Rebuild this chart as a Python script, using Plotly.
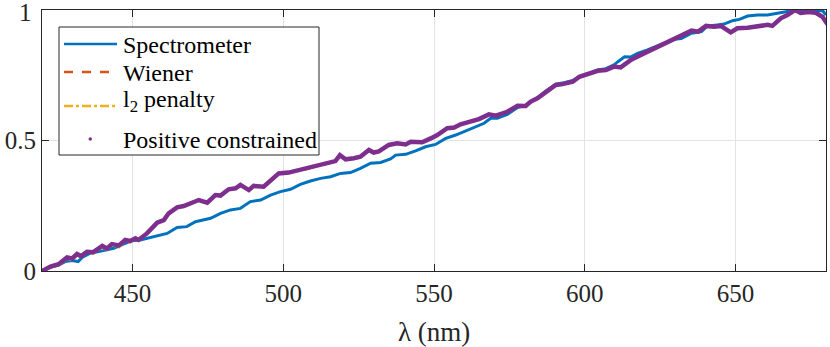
import plotly.graph_objects as go

# wavelength (nm) and normalised spectra
spec_x = [420, 422.8, 425.5, 427.7, 430, 432, 433.3, 436, 440, 443.8, 447, 449.9, 452.6, 457,
          461.5, 464.8, 468, 470.9, 475.9, 479.2, 482.5, 485.8, 489.1, 492.5, 495.8, 499.1,
          502.4, 505.7, 509, 512.4, 515.7, 519, 522.3, 525.6, 529, 532.3, 535.6, 537.3, 540.6,
          543.9, 547.2, 550.5, 553.9, 557.2, 560.5, 563.8, 566.6, 568.8, 571, 574.3, 577.7,
          580.4, 582.1, 584.3, 587.1, 590.4, 592.6, 596, 598.2, 601.5, 604.3, 607, 609.7, 611,
          613.2, 615.2, 617.5, 620.8, 624.1, 627.4, 629.6, 632, 635.4, 638.7, 640.7, 644, 646.2,
          649, 651.3, 654, 657.3, 660.6, 663.9, 667.2, 670, 672.7, 676.1, 678.9, 680]
spec_y = [0, 0.014, 0.023, 0.036, 0.04, 0.036, 0.052, 0.068, 0.077, 0.087, 0.103, 0.116, 0.119,
          0.131, 0.144, 0.167, 0.170, 0.189, 0.202, 0.221, 0.234, 0.24, 0.266, 0.272, 0.291,
          0.304, 0.313, 0.332, 0.345, 0.355, 0.361, 0.374, 0.377, 0.393, 0.413, 0.416, 0.429,
          0.444, 0.447, 0.46, 0.476, 0.485, 0.508, 0.521, 0.536, 0.553, 0.566, 0.585, 0.585,
          0.6, 0.626, 0.635, 0.65, 0.664, 0.69, 0.716, 0.72, 0.73, 0.745, 0.757, 0.77, 0.775,
          0.79, 0.802, 0.821, 0.82, 0.834, 0.847, 0.862, 0.875, 0.888, 0.891, 0.911, 0.917,
          0.939, 0.943, 0.946, 0.959, 0.964, 0.977, 0.981, 0.981, 0.987, 0.994, 1.0, 0.997,
          0.997, 0.997, 0.981]

rec_x = [420, 422.8, 425.5, 428.3, 430, 431.6, 433, 434.9, 437, 440, 441.5, 443.2, 445.5, 447.6,
         449.2, 451, 452, 454.8, 458.2, 460.4, 462, 464.8, 467, 469.2, 472, 474.8, 477.5, 479.2,
         481.9, 484.2, 485.8, 488.6, 490.2, 493.5, 496.3, 498.5, 501.8, 505.2, 508.5, 511.8,
         515.1, 517.3, 518.8, 520.7, 523.4, 525.6, 528.4, 530, 531.7, 535, 537.8, 540.6, 542.3,
         546.1, 548.9, 551.1, 554.4, 556.7, 558.8, 562.2, 564.9, 568.2, 570.5, 574.3, 577.7,
         580.4, 582.1, 584.3, 587.1, 590.4, 592.6, 596, 598.2, 601.5, 604.3, 607, 609.7, 611.9,
         615.2, 618.6, 621.9, 625.2, 628, 630.2, 632, 635.4, 637.6, 640.2, 642.9, 645.1, 648.4,
         650.6, 654, 657.3, 660.6, 662.2, 663.3, 665, 667.2, 669.7, 671.6, 674.3, 676.6, 678.8,
         680.5]
positive_y = [0, 0.017, 0.026, 0.052, 0.048, 0.065, 0.057, 0.074, 0.072, 0.096, 0.086, 0.103,
              0.098, 0.119, 0.115, 0.125, 0.119, 0.144, 0.185, 0.195, 0.221, 0.244, 0.249, 0.259,
              0.272, 0.262, 0.291, 0.289, 0.313, 0.317, 0.33, 0.31, 0.326, 0.323, 0.349, 0.374,
              0.377, 0.387, 0.393, 0.406, 0.413, 0.421, 0.444, 0.428, 0.432, 0.438, 0.464, 0.454,
              0.458, 0.483, 0.489, 0.485, 0.495, 0.493, 0.508, 0.521, 0.547, 0.55, 0.562, 0.572,
              0.582, 0.6, 0.595, 0.61, 0.633, 0.632, 0.649, 0.662, 0.687, 0.713, 0.716, 0.725,
              0.744, 0.755, 0.767, 0.77, 0.783, 0.78, 0.808, 0.828, 0.847, 0.862, 0.879, 0.895,
              0.904, 0.921, 0.917, 0.939, 0.936, 0.939, 0.914, 0.93, 0.932, 0.936, 0.943, 0.939,
              0.951, 0.968, 0.981, 1.0, 0.989, 0.992, 0.989, 0.974, 0.946]
# Wiener and l2 results lie almost exactly under the positive-constrained one
wiener_y = [0, 0.018, 0.027, 0.051, 0.047, 0.064, 0.057, 0.073, 0.071, 0.095, 0.085, 0.102,
            0.097, 0.118, 0.114, 0.124, 0.118, 0.143, 0.184, 0.194, 0.22, 0.243, 0.248, 0.258,
            0.271, 0.261, 0.29, 0.288, 0.312, 0.316, 0.329, 0.309, 0.325, 0.322, 0.348, 0.373,
            0.376, 0.386, 0.392, 0.405, 0.412, 0.42, 0.443, 0.427, 0.431, 0.437, 0.463, 0.453,
            0.457, 0.482, 0.488, 0.484, 0.494, 0.492, 0.507, 0.52, 0.546, 0.549, 0.561, 0.571,
            0.581, 0.599, 0.594, 0.609, 0.632, 0.631, 0.648, 0.661, 0.686, 0.712, 0.715, 0.724,
            0.743, 0.754, 0.766, 0.769, 0.782, 0.779, 0.807, 0.827, 0.846, 0.861, 0.878, 0.894,
            0.903, 0.92, 0.916, 0.938, 0.935, 0.938, 0.913, 0.929, 0.931, 0.935, 0.942, 0.938,
            0.95, 0.967, 0.98, 0.999, 0.988, 0.991, 0.988, 0.973, 0.945]
l2_y = [0, 0.012, 0.02, 0.046, 0.04, 0.06, 0.05, 0.07, 0.066, 0.09, 0.08, 0.098,
        0.09, 0.114, 0.108, 0.121, 0.115, 0.141, 0.182, 0.193, 0.219, 0.242, 0.247, 0.257,
        0.27, 0.26, 0.289, 0.287, 0.311, 0.315, 0.328, 0.308, 0.324, 0.321, 0.347, 0.372,
        0.375, 0.385, 0.391, 0.404, 0.411, 0.419, 0.442, 0.426, 0.43, 0.436, 0.462, 0.452,
        0.456, 0.481, 0.487, 0.483, 0.493, 0.491, 0.506, 0.519, 0.545, 0.548, 0.56, 0.57,
        0.58, 0.598, 0.593, 0.608, 0.631, 0.63, 0.647, 0.66, 0.685, 0.711, 0.714, 0.723,
        0.742, 0.753, 0.765, 0.768, 0.781, 0.778, 0.806, 0.826, 0.845, 0.86, 0.877, 0.893,
        0.902, 0.919, 0.915, 0.937, 0.934, 0.937, 0.912, 0.928, 0.93, 0.934, 0.941, 0.937,
        0.949, 0.966, 0.979, 0.998, 0.987, 0.99, 0.987, 0.972, 0.944]

series_names = ["Spectrometer", "Wiener", "l<sub>2</sub> penalty", "Positive constrained"]
x_ticks = [450, 500, 550, 600, 650]
y_ticks = [0, 0.5, 1]
y_tick_text = ["0", "0.5", ""]   # top label "1" drawn separately, nudged down like MATLAB does

FONT = "Liberation Serif"
AX = "#262626"
COLORS = ["#0072BD", "#D95319", "#EDB120", "#7E2F8E"]
DASHES = ["solid", "dash", "dashdot", "solid"]
WIDTHS = [3, 2, 2, 4.5]

W, H = 830, 347
ML, MR, MT, MB = 42, 4, 10, 76
PW, PH = W - ML - MR, H - MT - MB


def px(x):
    return (x - ML) / PW


def py(y):
    return 1 - (y - MT) / PH


fig = go.Figure()
fig.add_trace(go.Scatter(x=spec_x, y=spec_y, name=series_names[0], mode="lines",
                         line=dict(color=COLORS[0], width=WIDTHS[0])))
fig.add_trace(go.Scatter(x=rec_x, y=wiener_y, name=series_names[1], mode="lines",
                         line=dict(color=COLORS[1], width=WIDTHS[1], dash=DASHES[1])))
fig.add_trace(go.Scatter(x=rec_x, y=l2_y, name=series_names[2], mode="lines",
                         line=dict(color=COLORS[2], width=WIDTHS[2], dash=DASHES[2])))
fig.add_trace(go.Scatter(x=rec_x, y=positive_y, name=series_names[3], mode="lines",
                         line=dict(color=COLORS[3], width=WIDTHS[3])))

axis_common = dict(
    showline=True, linecolor=AX, linewidth=1, mirror="ticks",
    ticks="inside", ticklen=7, tickcolor=AX, tickwidth=1,
    showgrid=True, gridcolor="#E3E3E3", gridwidth=1, zeroline=False,
    tickfont=dict(family=FONT, size=25, color=AX), automargin=False,
    ticklabeloverflow="allow",
)

# legend drawn by hand, MATLAB style (long line samples, dot for the last one)
shapes = [dict(type="rect", xref="paper", yref="paper", x0=px(59), x1=px(319),
               y0=py(155), y1=py(27), line=dict(color=AX, width=1), fillcolor="white",
               layer="above")]
annotations = []
row_y = [45, 73, 101, 140]
sample_y = [44, 72, 106, 139]
for i, name in enumerate(series_names):
    if i < 3:
        shapes.append(dict(type="line", xref="paper", yref="paper",
                           x0=px(64), x1=px(117), y0=py(sample_y[i]), y1=py(sample_y[i]),
                           line=dict(color=COLORS[i], width=2.5, dash=DASHES[i]),
                           layer="above"))
    else:
        shapes.append(dict(type="circle", xref="paper", yref="paper",
                           x0=px(88.5), x1=px(92), y0=py(sample_y[i] + 1.75),
                           y1=py(sample_y[i] - 1.75),
                           line=dict(color=COLORS[i], width=0), fillcolor=COLORS[i],
                           layer="above"))
    annotations.append(dict(text=name, xref="paper", yref="paper", x=px(121), y=py(row_y[i]),
                            xanchor="left", yanchor="middle", showarrow=False,
                            font=dict(family=FONT, size=24, color="black")))

annotations.append(dict(text="1", xref="paper", yref="paper", x=px(34), y=py(13),
                        xanchor="right", yanchor="middle", showarrow=False,
                        font=dict(family=FONT, size=25, color=AX)))
annotations.append(dict(text="λ (nm)", xref="paper", yref="paper", x=0.5, y=py(332),
                        xanchor="center", yanchor="middle", showarrow=False,
                        font=dict(family=FONT, size=27, color=AX)))

fig.update_layout(
    width=W, height=H,
    margin=dict(l=ML, r=MR, t=MT, b=MB),
    plot_bgcolor="white", paper_bgcolor="white",
    font=dict(family=FONT, size=24, color=AX),
    xaxis=dict(range=[420, 680], tickvals=x_ticks, **axis_common),
    yaxis=dict(range=[0, 1], tickvals=y_ticks, ticktext=y_tick_text, **axis_common),
    showlegend=False,
    shapes=shapes,
    annotations=annotations,
)

fig.write_html("out.html", config={"displayModeBar": False},
               post_script="document.body.style.margin='0';")
